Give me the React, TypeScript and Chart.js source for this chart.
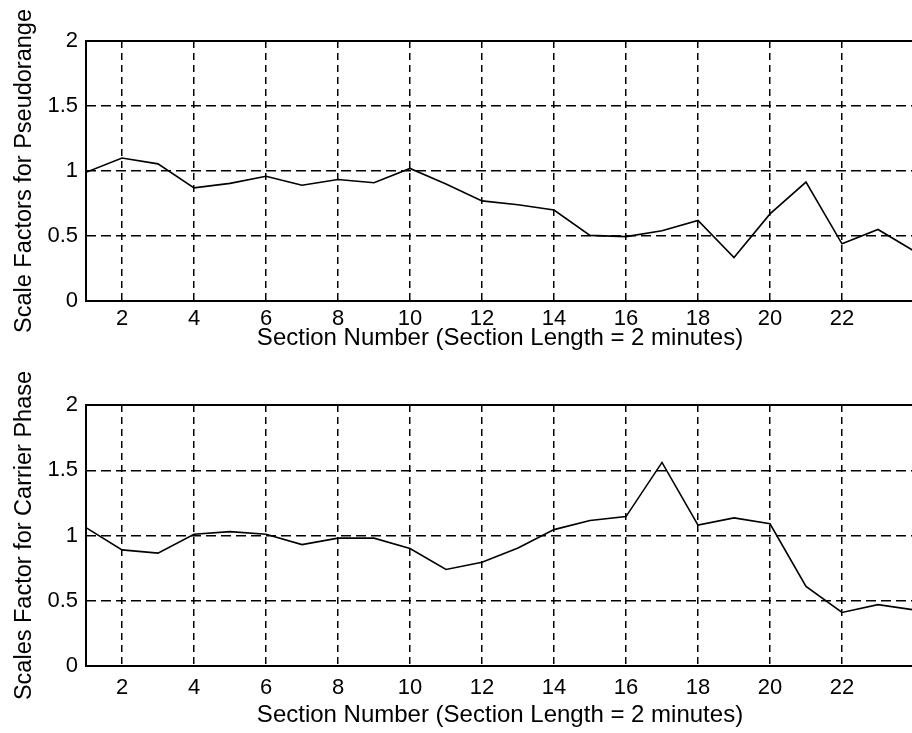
import React, { useEffect, useRef } from "react";
import { Chart, registerables } from "chart.js";

Chart.register(...registerables);

// ---- data ----
const sections = [1, 2, 3, 4, 5, 6, 7, 8, 9, 10, 11, 12, 13, 14, 15, 16, 17, 18, 19, 20, 21, 22, 23, 24];
const pseudorangeFactors = [0.99, 1.10, 1.055, 0.87, 0.905, 0.96, 0.89, 0.935, 0.91, 1.02, 0.90, 0.77, 0.74, 0.70, 0.505, 0.495, 0.54, 0.62, 0.335, 0.67, 0.915, 0.44, 0.55, 0.385];
const carrierFactors = [1.06, 0.89, 0.865, 1.01, 1.03, 1.01, 0.93, 0.98, 0.98, 0.90, 0.74, 0.795, 0.905, 1.045, 1.115, 1.145, 1.56, 1.08, 1.135, 1.09, 0.61, 0.41, 0.47, 0.43];
const xTickValues = [2, 4, 6, 8, 10, 12, 14, 16, 18, 20, 22];
const yTickValues = [0, 0.5, 1, 1.5, 2];
const yTickLabels = ["0", "0.5", "1", "1.5", "2"];
const xTitle = "Section Number (Section Length = 2 minutes)";
const topYTitle = "Scale Factors for Pseudorange";
const bottomYTitle = "Scales Factor for Carrier Phase";

const FONT = "'Liberation Sans', Arial, Helvetica, sans-serif";

const framePlugin = {
  id: "frame",
  afterDraw(chart: any) {
    const { ctx, chartArea } = chart;
    const { left, right, top, bottom } = chartArea;
    ctx.save();
    ctx.strokeStyle = "#000";
    ctx.lineWidth = 2;
    ctx.setLineDash([]);
    ctx.beginPath();
    ctx.moveTo(right, top);
    ctx.lineTo(left, top);
    ctx.lineTo(left, bottom);
    ctx.lineTo(right, bottom);
    ctx.lineTo(right, top);
    ctx.stroke();
    ctx.restore();
  },
};

type Cfg = {
  values: number[];
  yTitle: string;
  height: number;
  padTop: number;
  xAxisHeight: number;
  xTickPad: number;
  xTitlePadBottom: number;
};

function makeConfig(c: Cfg): any {
  return {
    type: "line",
    data: {
      datasets: [
        {
          data: sections.map((s, i) => ({ x: s, y: c.values[i] })),
          borderColor: "#000",
          borderWidth: 1.6,
          pointRadius: 0,
          tension: 0,
          fill: false,
        },
      ],
    },
    options: {
      animation: false,
      responsive: false,
      devicePixelRatio: 1,
      layout: { padding: { top: c.padTop, right: 2, left: 0, bottom: 0 } },
      plugins: { legend: { display: false }, tooltip: { enabled: false } },
      scales: {
        x: {
          type: "linear",
          min: 1,
          max: 24,
          afterBuildTicks: (scale: any) => {
            scale.ticks = xTickValues.map((v) => ({ value: v }));
          },
          afterFit: (scale: any) => {
            scale.height = c.xAxisHeight;
          },
          grid: { color: "#000", lineWidth: 1.5, drawTicks: false },
          border: { display: false, dash: [7, 5] },
          ticks: {
            color: "#000",
            padding: c.xTickPad,
            maxRotation: 0,
            autoSkip: false,
            font: { family: FONT, size: 22 },
            callback: (v: any) => String(v),
          },
          title: {
            display: true,
            text: xTitle,
            color: "#000",
            font: { family: FONT, size: 24 },
            padding: { top: 0, bottom: c.xTitlePadBottom },
          },
        },
        y: {
          type: "linear",
          min: 0,
          max: 2,
          afterBuildTicks: (scale: any) => {
            scale.ticks = yTickValues.map((v) => ({ value: v }));
          },
          afterFit: (scale: any) => {
            scale.width = 86;
          },
          grid: { color: "#000", lineWidth: 1.5, drawTicks: false },
          border: { display: false, dash: [10, 5] },
          ticks: {
            color: "#000",
            padding: 8,
            autoSkip: false,
            font: { family: FONT, size: 22 },
            callback: (v: any) => {
              const i = yTickValues.indexOf(Number(v));
              return i >= 0 ? yTickLabels[i] : "";
            },
          },
          title: {
            display: true,
            text: c.yTitle,
            color: "#000",
            font: { family: FONT, size: 23.5 },
            padding: { top: 10, bottom: 0 },
          },
        },
      },
    },
    plugins: [framePlugin],
  };
}

function Panel(props: Cfg & { top: number }) {
  const ref = useRef<HTMLCanvasElement | null>(null);
  useEffect(() => {
    if (!ref.current) return;
    const chart = new Chart(ref.current, makeConfig(props));
    return () => chart.destroy();
  }, []);
  return (
    <canvas
      ref={ref}
      width={916}
      height={props.height}
      style={{ position: "absolute", left: 0, top: props.top, width: 916, height: props.height }}
    />
  );
}

export default function App() {
  return (
    <div
      style={{
        position: "fixed",
        left: 0,
        top: 0,
        width: 912,
        height: 733,
        overflow: "hidden",
        background: "#fff",
      }}
    >
      <Panel
        top={0}
        height={366}
        values={pseudorangeFactors}
        yTitle={topYTitle}
        padTop={41}
        xAxisHeight={65}
        xTickPad={5}
        xTitlePadBottom={13}
      />
      <Panel
        top={366}
        height={367}
        values={carrierFactors}
        yTitle={bottomYTitle}
        padTop={39}
        xAxisHeight={67}
        xTickPad={9}
        xTitlePadBottom={3}
      />
    </div>
  );
}
